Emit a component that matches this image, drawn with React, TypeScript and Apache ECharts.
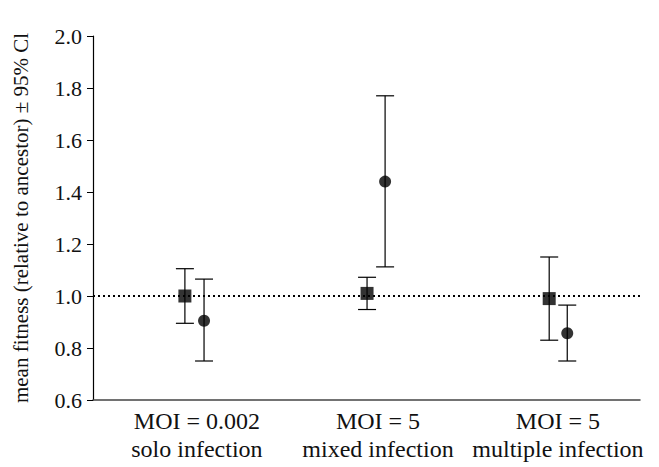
import { useEffect, useRef } from 'react';
import * as echarts from 'echarts';

const GROUP_LABELS = ['MOI = 0.002\nsolo infection', 'MOI = 5\nmixed infection', 'MOI = 5\nmultiple infection'];
const LABEL_POS = [19, 52.1, 85];
const SQUARE_X = [16.8, 50.1, 83.4];
const SQUARE_MEAN = [1.0, 1.01, 0.99];
const SQUARE_LO = [0.895, 0.948, 0.83];
const SQUARE_HI = [1.105, 1.072, 1.15];
const CIRCLE_X = [20.3, 53.4, 86.7];
const CIRCLE_MEAN = [0.905, 1.44, 0.857];
const CIRCLE_LO = [0.75, 1.112, 0.75];
const CIRCLE_HI = [1.065, 1.77, 0.965];
const Y_TICKS = [0.6, 0.8, 1.0, 1.2, 1.4, 1.6, 1.8, 2.0];
const Y_NAME = 'mean fitness (relative to ancestor) ± 95% Cl';

const FONT = 'Liberation Serif, Times New Roman, serif';

function errorBars(xs: number[], lo: number[], hi: number[]) {
  return {
    type: 'custom',
    silent: true,
    data: xs.map((x, i) => [x, lo[i], hi[i]]),
    renderItem: (_p: any, api: any) => {
      const a = api.coord([api.value(0), api.value(1)]);
      const b = api.coord([api.value(0), api.value(2)]);
      const w = 9;
      const style = { stroke: '#000', lineWidth: 1.2 };
      return {
        type: 'group',
        children: [
          { type: 'line', shape: { x1: a[0], y1: a[1], x2: b[0], y2: b[1] }, style },
          { type: 'line', shape: { x1: a[0] - w, y1: a[1], x2: a[0] + w, y2: a[1] }, style },
          { type: 'line', shape: { x1: b[0] - w, y1: b[1], x2: b[0] + w, y2: b[1] }, style },
        ],
      };
    },
    z: 2,
  };
}

export default function App() {
  const ref = useRef<HTMLDivElement>(null);

  useEffect(() => {
    if (!ref.current) return;
    const chart = echarts.init(ref.current, null, { renderer: 'svg' });
    chart.setOption({
      animation: false,
      textStyle: { fontFamily: FONT },
      grid: { left: 85, right: 11, top: 28, bottom: 67, outerBoundsMode: 'none', containLabel: false },
      xAxis: {
        type: 'value',
        min: 0,
        max: 100,
        splitLine: { show: false },
        axisLine: { lineStyle: { color: '#444', width: 1.5 } },
        axisTick: { show: false },
        axisLabel: {
          customValues: LABEL_POS,
          formatter: (v: number) => GROUP_LABELS[LABEL_POS.indexOf(v)] ?? '',
          color: '#111',
          fontSize: 24,
          fontFamily: FONT,
          lineHeight: 28,
          margin: 7,
          hideOverlap: false,
        },
      },
      yAxis: {
        type: 'value',
        min: 0.6,
        max: 2.0,
        interval: 0.2,
        splitLine: { show: false },
        axisLine: { show: true, lineStyle: { color: '#000', width: 1.2 } },
        axisTick: { show: true, length: 6, lineStyle: { color: '#000' } },
        axisLabel: { show: false },
      },
      series: [
        errorBars(SQUARE_X, SQUARE_LO, SQUARE_HI),
        errorBars(CIRCLE_X, CIRCLE_LO, CIRCLE_HI),
        {
          type: 'scatter',
          symbol: 'rect',
          symbolSize: 13,
          itemStyle: { color: '#000' },
          data: SQUARE_X.map((x, i) => [x, SQUARE_MEAN[i]]),
          z: 3,
          markLine: {
            silent: true,
            symbol: 'none',
            label: { show: false },
            lineStyle: { color: '#000', type: [2, 3], width: 1.8 },
            data: [{ yAxis: 1.0 }],
          },
        },
        {
          type: 'scatter',
          symbol: 'circle',
          symbolSize: 12,
          itemStyle: { color: '#000' },
          data: CIRCLE_X.map((x, i) => [x, CIRCLE_MEAN[i]]),
          z: 3,
        },
      ],
    });

    // y tick labels and axis title, placed through the y axis scale
    const axisX = chart.convertToPixel({ gridIndex: 0 }, [0, 0.6])[0];
    const top = chart.convertToPixel({ gridIndex: 0 }, [0, 2.0])[1];
    const bottom = chart.convertToPixel({ gridIndex: 0 }, [0, 0.6])[1];
    const textStyle = { fill: '#111', fontFamily: FONT };
    chart.setOption({
      graphic: [
        ...Y_TICKS.map((t) => ({
          type: 'text',
          x: axisX - 11,
          y: chart.convertToPixel({ gridIndex: 0 }, [0, t])[1],
          style: { ...textStyle, text: t.toFixed(1), fontSize: 22, align: 'right', verticalAlign: 'middle' },
        })),
        {
          type: 'text',
          x: axisX - 72,
          y: (top + bottom) / 2,
          rotation: Math.PI / 2,
          style: { ...textStyle, text: Y_NAME, fontSize: 21, align: 'center', verticalAlign: 'middle' },
        },
      ],
    });
    return () => chart.dispose();
  }, []);

  return <div ref={ref} style={{ width: 643, height: 459 }} />;
}
